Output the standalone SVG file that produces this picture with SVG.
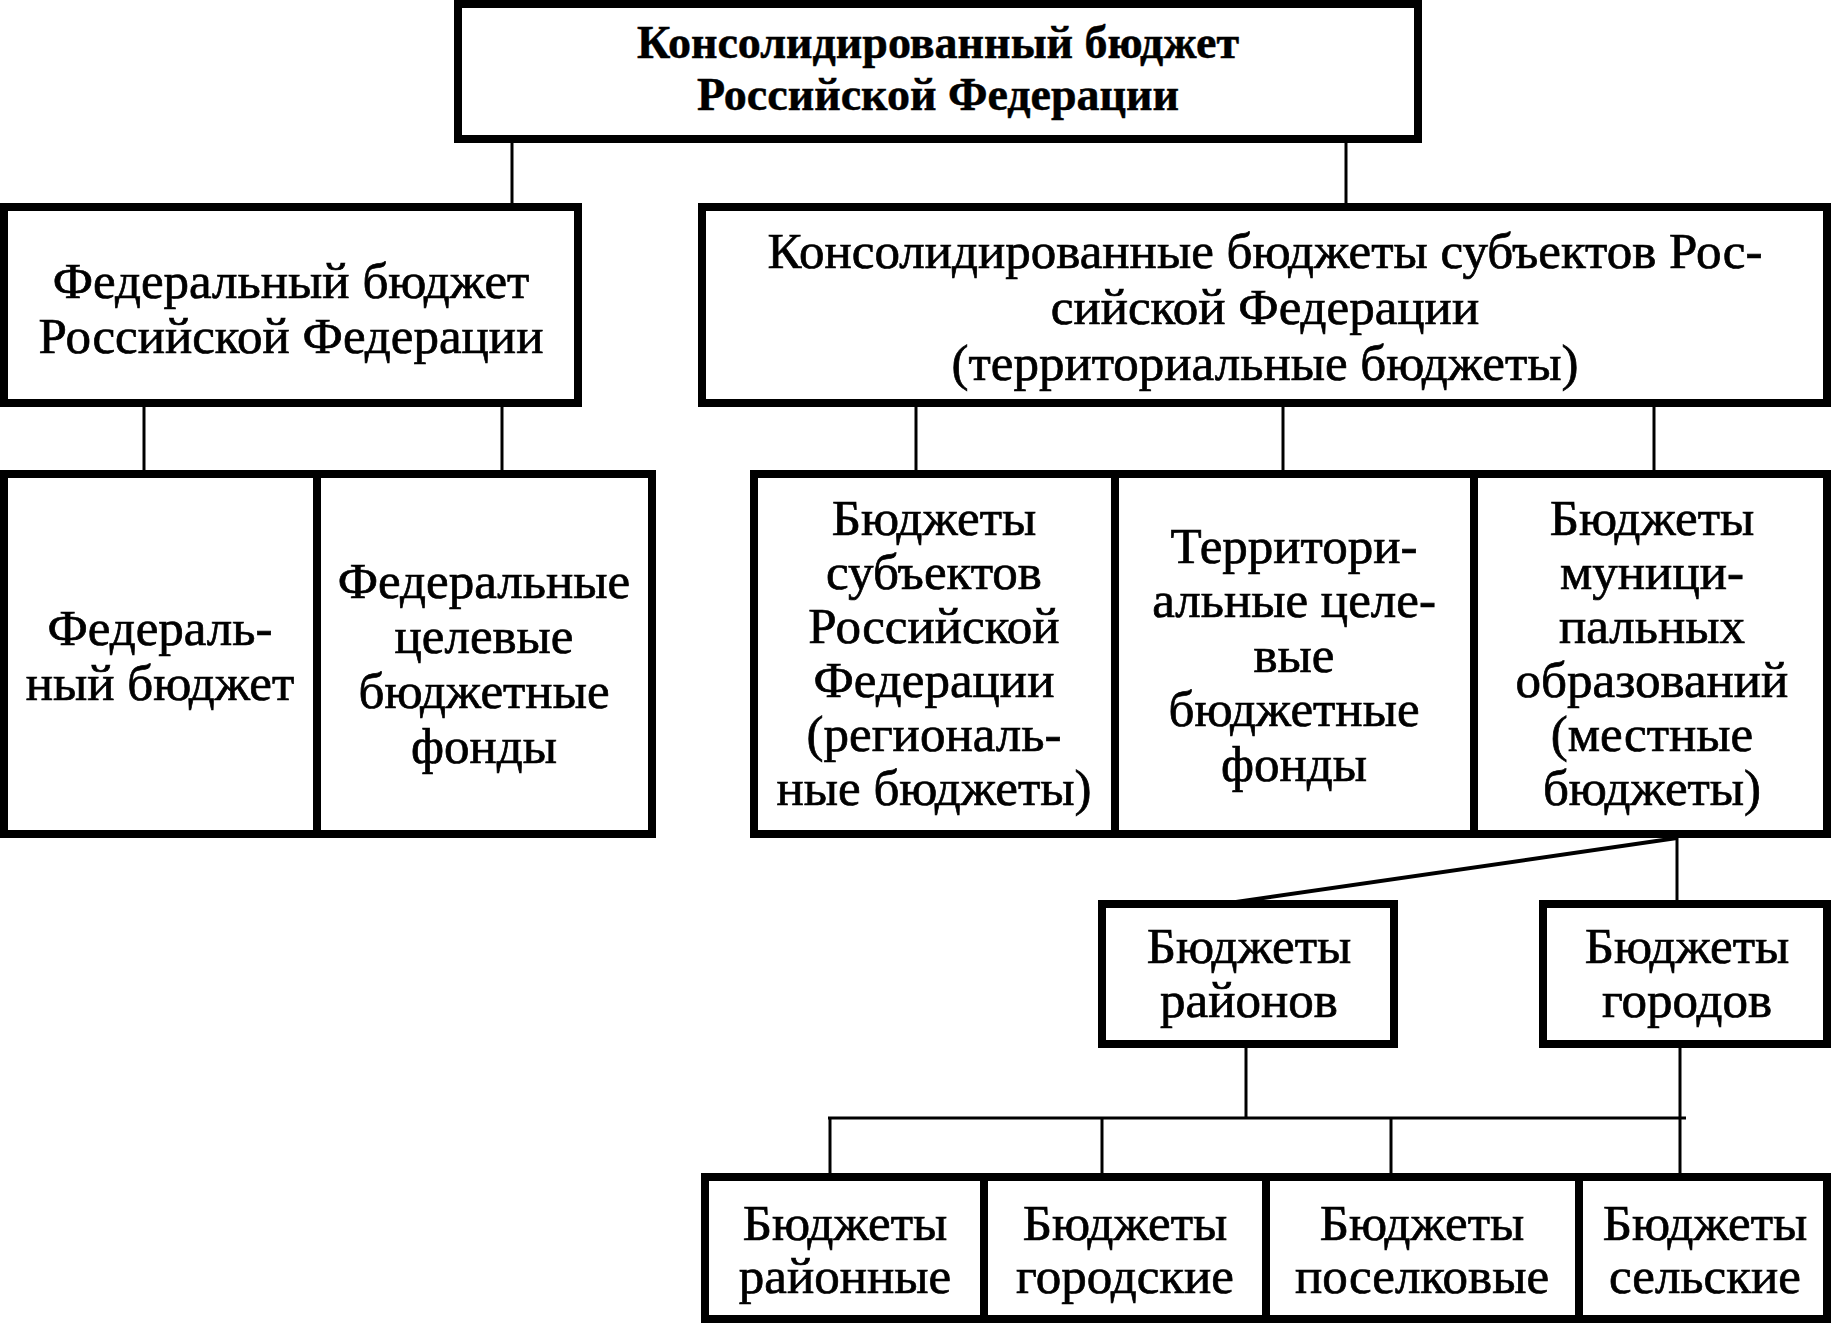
<svg xmlns="http://www.w3.org/2000/svg" width="1831" height="1328" viewBox="0 0 1831 1328">
<style>
.box{fill:#fff;stroke:#000;stroke-width:8}
.t{font-family:"Liberation Serif","Times New Roman",serif;font-size:51px;fill:#000;stroke:#000;stroke-width:0.7;text-anchor:middle}
.b{font-weight:bold;font-size:46px;stroke-width:0.5}
.c{stroke:#000;stroke-width:3;fill:none}
</style>
<rect width="1831" height="1328" fill="#fff"/>
<g id="connectors">
<line class="c" x1="512" y1="143" x2="512" y2="205"/>
<line class="c" x1="1346" y1="143" x2="1346" y2="205"/>
<line class="c" x1="144" y1="407" x2="144" y2="472"/>
<line class="c" x1="502" y1="407" x2="502" y2="472"/>
<line class="c" x1="916" y1="407" x2="916" y2="472"/>
<line class="c" x1="1283" y1="407" x2="1283" y2="472"/>
<line class="c" x1="1654" y1="407" x2="1654" y2="472"/>
<line class="c" x1="1677" y1="838" x2="1236" y2="902" style="stroke-width:4"/>
<line class="c" x1="1677" y1="838" x2="1677" y2="902"/>
<line class="c" x1="1246" y1="1048" x2="1246" y2="1118"/>
<line class="c" x1="828" y1="1118" x2="1686" y2="1118"/>
<line class="c" x1="1680" y1="1048" x2="1680" y2="1175"/>
<line class="c" x1="830" y1="1118" x2="830" y2="1175"/>
<line class="c" x1="1102" y1="1118" x2="1102" y2="1175"/>
<line class="c" x1="1391" y1="1118" x2="1391" y2="1175"/>
</g>
<g id="consolidated">
<rect class="box" x="458" y="4" width="960" height="135"/>
<text class="t b" x="938" y="58">Консолидированный бюджет</text>
<text class="t b" x="938" y="110">Российской Федерации</text>
</g>
<g id="federal">
<rect class="box" x="4" y="207" width="574" height="196"/>
<text class="t" x="291" y="298">Федеральный бюджет</text>
<text class="t" x="291" y="353">Российской Федерации</text>
</g>
<g id="territorial">
<rect class="box" x="702" y="207" width="1125" height="196"/>
<text class="t" x="1265" y="268">Консолидированные бюджеты субъектов Рос-</text>
<text class="t" x="1265" y="324">сийской Федерации</text>
<text class="t" x="1265" y="380">(территориальные бюджеты)</text>
</g>
<g id="federal-budget">
<rect class="box" x="4" y="474" width="313" height="360"/>
<text class="t" x="160" y="645">Федераль-</text>
<text class="t" x="160" y="700">ный бюджет</text>
</g>
<g id="federal-funds">
<rect class="box" x="317" y="474" width="335" height="360"/>
<text class="t" x="484" y="598">Федеральные</text>
<text class="t" x="484" y="653">целевые</text>
<text class="t" x="484" y="708">бюджетные</text>
<text class="t" x="484" y="763">фонды</text>
</g>
<g id="regional">
<rect class="box" x="754" y="474" width="361" height="360"/>
<text class="t" x="934" y="535">Бюджеты</text>
<text class="t" x="934" y="589">субъектов</text>
<text class="t" x="934" y="643">Российской</text>
<text class="t" x="934" y="697">Федерации</text>
<text class="t" x="934" y="751">(региональ-</text>
<text class="t" x="934" y="805">ные бюджеты)</text>
</g>
<g id="territorial-funds">
<rect class="box" x="1115" y="474" width="359" height="360"/>
<text class="t" x="1294" y="563">Территори-</text>
<text class="t" x="1294" y="617">альные целе-</text>
<text class="t" x="1294" y="672">вые</text>
<text class="t" x="1294" y="726">бюджетные</text>
<text class="t" x="1294" y="781">фонды</text>
</g>
<g id="municipal">
<rect class="box" x="1474" y="474" width="353" height="360"/>
<text class="t" x="1652" y="535">Бюджеты</text>
<text class="t" x="1652" y="589">муници-</text>
<text class="t" x="1652" y="643">пальных</text>
<text class="t" x="1652" y="697">образований</text>
<text class="t" x="1652" y="751">(местные</text>
<text class="t" x="1652" y="805">бюджеты)</text>
</g>
<g id="districts">
<rect class="box" x="1102" y="904" width="292" height="140"/>
<text class="t" x="1249" y="963">Бюджеты</text>
<text class="t" x="1249" y="1017">районов</text>
</g>
<g id="cities">
<rect class="box" x="1543" y="904" width="284" height="140"/>
<text class="t" x="1687" y="963">Бюджеты</text>
<text class="t" x="1687" y="1017">городов</text>
</g>
<g id="district-level">
<rect class="box" x="705" y="1177" width="279" height="142"/>
<text class="t" x="845" y="1240">Бюджеты</text>
<text class="t" x="845" y="1293">районные</text>
</g>
<g id="city-level">
<rect class="box" x="984" y="1177" width="282" height="142"/>
<text class="t" x="1125" y="1240">Бюджеты</text>
<text class="t" x="1125" y="1293">городские</text>
</g>
<g id="settlement-level">
<rect class="box" x="1266" y="1177" width="313" height="142"/>
<text class="t" x="1422" y="1240">Бюджеты</text>
<text class="t" x="1422" y="1293">поселковые</text>
</g>
<g id="rural-level">
<rect class="box" x="1579" y="1177" width="248" height="142"/>
<text class="t" x="1705" y="1240">Бюджеты</text>
<text class="t" x="1705" y="1293">сельские</text>
</g>
</svg>
